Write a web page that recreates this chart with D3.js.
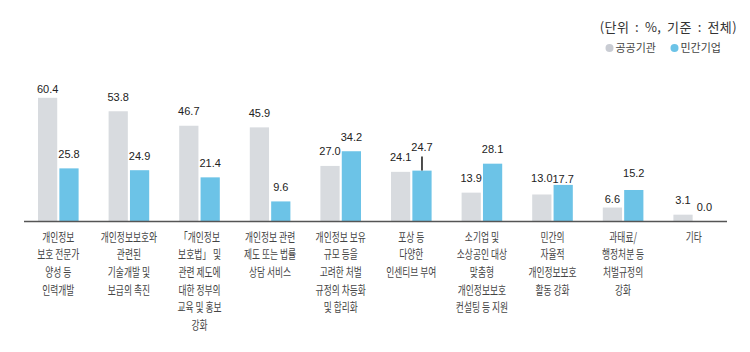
<!DOCTYPE html>
<html>
<head>
<meta charset="utf-8">
<script src="https://cdn.jsdelivr.net/npm/d3@7"></script>
<style>
  body { margin: 0; background: #fff; }
  svg { display: block; }
</style>
</head>
<body>
<svg width="750" height="352"></svg>
<script>
// categories, one array of lines per category
var categories = [
    ["개인정보", "보호 전문가", "양성 등", "인력개발"],
    ["개인정보보호와", "관련된", "기술개발 및", "보급의 촉진"],
    ["「개인정보", "보호법」 및", "관련 제도에", "대한 정부의", "교육 및 홍보", "강화"],
    ["개인정보 관련", "제도 또는 법률", "상담 서비스"],
    ["개인정보 보유", "규모 등을", "고려한 처벌", "규정의 차등화", "및 합리화"],
    ["포상 등", "다양한", "인센티브 부여"],
    ["소기업 및", "소상공인 대상", "맞춤형", "개인정보보호", "컨설팅 등 지원"],
    ["민간의", "자율적", "개인정보보호", "활동 강화"],
    ["과태료/", "행정처분 등", "처벌규정의", "강화"],
    ["기타"]
];
var publicValues  = [60.4, 53.8, 46.7, 45.9, 27.0, 24.1, 13.9, 13.0, 6.6, 3.1];
var privateValues = [25.8, 24.9, 21.4, 9.6, 34.2, 24.7, 28.1, 17.7, 15.2, 0.0];
var seriesNames = ["공공기관", "민간기업"];
var unitNote = "(단위 : %, 기준 : 전체)";

var colors = ["#d8dbdf", "#6cc3e7"];

var svg = d3.select("svg");
var numFont = "'Liberation Sans', Arial, sans-serif";
var krFont = "'Noto Sans CJK KR', 'Noto Sans', sans-serif";

var x = d3.scaleBand()
    .domain(d3.range(categories.length))
    .range([23, 729]);

var xs = d3.scaleBand()
    .domain([0, 1])
    .range([0, 40.6])
    .paddingInner(0.1);

var y = d3.scaleLinear()
    .domain([0, 60.4])
    .range([221, 97.8]);

var rows = publicValues.map(function(v, i) {
    return [v, privateValues[i]];
});

// some labels sit off the usual spot in the original
var nudge = { "0-0": 5.5, "7-1": 8.5, "8-0": 5.5, "5-1": -9.5, "7-0": -1.5, "8-1": -2 };

var groups = svg.append("g").selectAll("g")
    .data(rows)
    .enter().append("g")
    .attr("transform", function(d, i) {
        return "translate(" + (x(i) + x.bandwidth() / 2 - 20.3) + ",0)";
    });

groups.selectAll("rect")
    .data(function(d) { return d; })
    .enter().append("rect")
    .attr("x", function(d, j) { return xs(j); })
    .attr("y", function(d) { return y(d); })
    .attr("width", xs.bandwidth())
    .attr("height", function(d) { return y(0) - y(d); })
    .attr("fill", function(d, j) { return colors[j]; });

groups.each(function(d, i) {
    var g = d3.select(this);
    d.forEach(function(v, j) {
        var off = nudge[i + "-" + j] || 0;
        var cx = xs(j) + xs.bandwidth() / 2;
        g.append("text")
            .attr("x", cx)
            .attr("y", y(v) - 10.5 + off)
            .attr("text-anchor", "middle")
            .attr("font-family", numFont)
            .attr("font-size", "11px")
            .attr("fill", "#222")
            .text(v.toFixed(1));
        if (off < -5) {
            g.append("line")
                .attr("x1", cx).attr("x2", cx)
                .attr("y1", y(v) - 14).attr("y2", y(v))
                .attr("stroke", "#222")
                .attr("stroke-width", 1.6);
        }
    });
});

// baseline
svg.append("line")
    .attr("x1", 24).attr("x2", 727)
    .attr("y1", y(0) + 0.5).attr("y2", y(0) + 0.5)
    .attr("stroke", "#555")
    .attr("stroke-width", 1.6);

// category labels
var labels = svg.append("g").selectAll("text")
    .data(categories)
    .enter().append("text")
    .attr("transform", function(d, i) {
        return "translate(" + (x(i) + x.bandwidth() / 2) + ",241.5) scale(0.7,1)";
    })
    .attr("text-anchor", "middle")
    .attr("font-family", krFont)
    .attr("font-size", "12.5px")
    .attr("fill", "#444");

labels.selectAll("tspan")
    .data(function(d) { return d; })
    .enter().append("tspan")
    .attr("x", 0)
    .attr("y", function(d, k) { return k * 17.7; })
    .text(function(d) { return d; });

// unit note + legend
svg.append("text")
    .attr("x", 737)
    .attr("y", 32)
    .attr("text-anchor", "end")
    .attr("font-family", krFont)
    .attr("font-size", "13px")
    .attr("letter-spacing", "0.4px")
    .attr("word-spacing", "2.5px")
    .attr("fill", "#333")
    .text(unitNote);

var legend = svg.append("g").selectAll("g")
    .data(seriesNames)
    .enter().append("g")
    .attr("transform", function(d, i) {
        return "translate(" + (609.5 + i * 65) + ",48)";
    });

legend.append("circle")
    .attr("r", 4)
    .attr("fill", function(d, i) { return i === 0 ? "#c9ccd3" : colors[1]; });

legend.append("text")
    .attr("x", 6)
    .attr("y", 4)
    .attr("font-family", krFont)
    .attr("font-size", "11px")
    .attr("fill", "#444")
    .text(function(d) { return d; });
</script>
</body>
</html>
